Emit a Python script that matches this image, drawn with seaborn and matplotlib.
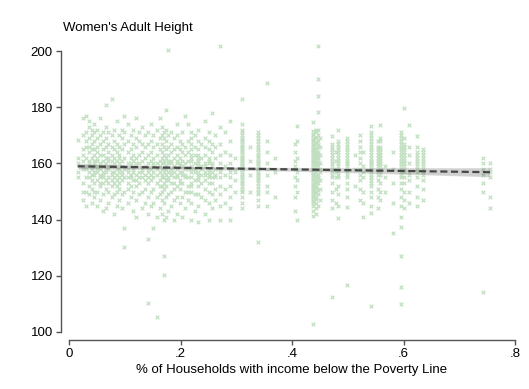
import numpy as np
import pandas as pd
import matplotlib
matplotlib.use("Agg")
import matplotlib.pyplot as plt
import seaborn as sns

# ---- data: community poverty rate -> women's adult heights (cm) ----
pov_rates = [
    0.015, 0.025, 0.03, 0.035, 0.04, 0.045, 0.05, 0.055, 0.06, 0.065,
    0.07, 0.076, 0.08, 0.085, 0.09, 0.095, 0.098, 0.105, 0.11, 0.115,
    0.12, 0.125, 0.13, 0.135, 0.142, 0.147, 0.151, 0.157, 0.162, 0.166,
    0.170, 0.174, 0.178, 0.183, 0.188, 0.193, 0.198, 0.203, 0.208, 0.213,
    0.218, 0.225, 0.231, 0.237, 0.243, 0.25, 0.256, 0.262, 0.27, 0.28,
    0.288, 0.298, 0.31, 0.325, 0.339, 0.355, 0.37, 0.405, 0.408, 0.437,
    0.442, 0.446, 0.45, 0.471, 0.478, 0.483, 0.499, 0.512, 0.522, 0.527,
    0.541, 0.554, 0.558, 0.566, 0.581, 0.595, 0.6, 0.609, 0.624, 0.635,
    0.742, 0.755,
]

heights = [
    [157, 160, 168.3, 155, 162],
    [150, 158, 163, 170, 176, 153, 161, 147, 165],
    [155, 159, 171, 177, 150, 162, 166, 145, 158, 168],
    [152, 157, 160, 164, 169, 173, 149, 155, 161, 166, 175],
    [146, 151, 156, 158, 162, 165, 167, 170, 172, 154, 159],
    [148, 153, 157, 160, 163, 168, 171, 174, 156, 150, 161, 165],
    [145, 150, 154, 157, 159, 162, 164, 166, 169, 172, 158, 161],
    [147, 152, 155, 158, 160, 163, 167, 170, 176, 156, 153],
    [143, 149, 153, 156, 159, 161, 165, 168, 171, 157, 163, 155],
    [144, 151, 154, 157, 160, 162, 166, 169, 173, 180.8, 158],
    [146, 150, 155, 158, 161, 164, 167, 171, 153, 159, 162],
    [148, 152, 156, 159, 163, 166, 170, 182.9, 157, 154, 161],
    [142, 149, 153, 157, 160, 162, 165, 168, 172, 155, 159],
    [145, 150, 154, 158, 161, 164, 167, 175, 156, 152],
    [147, 151, 155, 157, 160, 163, 166, 170, 158, 153, 162],
    [144, 149, 154, 156, 159, 161, 165, 169, 172, 157],
    [130.4, 137.1, 150, 155, 158, 162, 167, 171, 177],
    [146, 151, 155, 158, 160, 164, 168, 174, 153, 157],
    [148, 152, 156, 159, 162, 165, 170, 155, 160],
    [143, 150, 154, 157, 161, 163, 167, 172, 158],
    [141, 147, 152, 156, 159, 162, 166, 169, 176, 154, 160],
    [149, 153, 157, 160, 163, 168, 171, 155],
    [144, 150, 155, 158, 161, 164, 167, 173, 157],
    [146, 151, 156, 159, 162, 166, 170, 154],
    [110.4, 133.1, 142, 148, 153, 157, 160, 163, 167, 171, 155, 158],
    [145, 150, 154, 158, 161, 164, 168, 174, 156],
    [136.9, 146, 151, 155, 159, 162, 166, 170, 157, 160],
    [105.2, 141, 148, 153, 156, 160, 163, 167, 172, 158],
    [144, 149, 154, 157, 161, 165, 169, 176, 159, 152],
    [142, 147, 152, 155, 158, 160, 162, 164, 167, 170, 173, 156, 150],
    [120.3, 127.2, 140, 146, 151, 155, 158, 161, 163, 166, 169, 171, 153, 157, 160],
    [141, 148, 152, 156, 159, 162, 165, 168, 172, 179, 154, 158],
    [143, 149, 154, 157, 160, 163, 166, 170, 200.3, 155, 161],
    [145, 150, 153, 156, 158, 161, 164, 167, 171, 157, 160],
    [140, 147, 151, 155, 159, 162, 165, 169, 157, 153],
    [142, 148, 152, 156, 158, 160, 163, 166, 170, 174, 155, 161],
    [146, 151, 154, 157, 159, 162, 165, 168, 153, 160],
    [141, 148, 153, 156, 159, 161, 164, 167, 171, 157],
    [144, 150, 155, 158, 160, 163, 166, 177, 156],
    [147, 152, 155, 158, 161, 164, 168, 174, 150],
    [140, 146, 150, 153, 155, 157, 159, 161, 163, 165, 167, 169, 171, 152, 158, 162],
    [143, 149, 154, 157, 160, 163, 166, 170, 158],
    [139, 145, 149, 152, 155, 157, 159, 161, 163, 165, 168, 172, 154, 160, 162, 156],
    [148, 153, 156, 159, 162, 167, 158],
    [142, 147, 151, 154, 157, 160, 163, 166, 169, 175, 156, 159],
    [140, 146, 150, 153, 156, 158, 160, 162, 165, 168, 171, 155, 161, 157],
    [144, 149, 153, 157, 160, 164, 167, 178, 155, 159],
    [147, 151, 155, 158, 162, 166, 170, 156],
    [140, 145, 149, 152, 155, 158, 160, 163, 167, 173, 201.9, 157],
    [146, 151, 156, 159, 164, 171],
    [140, 144, 148, 152, 155, 157, 160, 163, 168, 175, 158],
    [150, 154, 158, 162, 157],
    [144, 146, 148, 150, 151, 152, 153, 154, 155, 156, 157, 158, 159, 160, 161,
     162, 163, 164, 165, 166, 167, 168, 169, 170, 172, 174, 182.8, 157.5, 159.5,
     161.5, 155.5, 153.5, 158.3, 160.3, 162.3, 164.3, 166.3, 168.3, 150.3, 171.3],
    [150, 156, 161, 166],
    [132.1, 145, 147, 149, 151, 153, 155, 157, 158, 159, 160, 161, 162, 163, 165,
     167, 169, 171, 156, 154, 150, 152, 154.5, 156.5, 158.5, 160.5, 162.5, 164,
     166, 168, 170],
    [145, 152, 156, 160, 164, 168, 188.7, 158, 150],
    [148, 157, 162],
    [143, 148, 152, 155, 158, 161, 164, 167, 159],
    [140, 150, 157, 162, 168, 173.3, 154],
    [141.3, 174.8, 143, 145, 147, 148, 149, 150, 151, 152, 153, 154, 155, 156, 157,
     158, 159, 160, 161, 162, 163, 164, 165, 166, 167, 168, 169, 170, 102.8, 146,
     151.5, 157.5, 146.5, 148.5, 150.5, 152.5, 154.5, 156.5, 158.5, 160.5, 162.5,
     164.5, 166.5, 168.5, 170.5, 159.2, 161.2, 163.2, 157.2, 165.2, 171.5],
    [142, 144, 146, 148, 150, 152, 154, 155, 156, 157, 158, 159, 160, 161, 162,
     163, 164, 165, 167, 169, 171, 172, 153, 151, 147.5, 149.5, 151.5, 153.5,
     155.5, 157.5, 159.5, 161.5, 163.5, 165.5, 167.5, 169.5, 160.8, 162.8, 158.8],
    [201.9, 190.0, 184.0, 178.2, 145, 149, 153, 156, 158, 160, 162, 164, 166, 168,
     170, 172, 155, 159, 150.5, 154.5, 157.5, 160.5, 163.5, 166.5, 161.8],
    [147, 151, 154, 157, 160, 163, 166, 169, 158],
    [112.3, 144.0, 147, 150, 153, 156, 158, 160, 162, 164, 166, 169.8, 155, 157,
     159, 161, 163, 165, 167],
    [146, 151, 155, 158, 161, 164, 157],
    [140.5, 145, 149, 152, 155, 157, 159, 162, 165, 168, 171.9, 156, 158, 160,
     161, 163, 164, 166, 167],
    [116.7, 144.6, 148, 151, 153, 155, 157, 159, 161, 163, 165, 167, 156, 160,
     158, 160, 162, 164, 166, 168, 169],
    [152, 158, 163],
    [147, 151, 154, 158, 162, 166, 156, 160, 164, 168, 170],
    [140.8, 146, 150, 155, 159, 164, 157],
    [109.4, 142.2, 145, 148, 150, 152, 154, 156, 157, 158, 159, 160, 161, 163, 165,
     167, 169, 173.3, 155, 153, 162, 164, 166, 168, 170, 171, 158.5, 160.5],
    [144, 148, 151, 154, 157, 159, 161, 164, 166, 156, 160, 162, 163, 165, 168],
    [147, 150, 153, 156, 158, 160, 162, 165, 168, 173.7, 157, 159, 161, 163, 164,
     166, 169],
    [150, 155, 159],
    [135.3, 146, 153, 158, 164],
    [109.9, 115.9, 127.0, 137.3, 141.0, 145, 148, 151, 153, 155, 157, 159, 161,
     163, 165, 167, 169, 156, 158, 160, 162, 164, 166, 168, 170, 171],
    [144, 147, 150, 153, 155, 157, 159, 162, 164, 166, 179.8, 158, 160, 161, 163,
     165, 167, 169],
    [146, 150, 154, 157, 160, 163, 166, 173.7, 156],
    [145, 148, 152, 155, 158, 161, 164, 169.7, 157, 159, 160, 162, 163, 166],
    [147, 151, 154, 157, 160, 163, 165, 156, 158, 159, 161, 162, 164],
    [114.1, 150, 153, 160.0, 156, 158, 162],
    [144.0, 148.1, 155.3, 158, 157, 160],
]

x_ticks = [0, 0.2, 0.4, 0.6, 0.8]
x_tick_labels = ["0", ".2", ".4", ".6", ".8"]
y_ticks = [100, 120, 140, 160, 180, 200]
title_text = "Women's Adult Height"
x_label = "% of Households with income below the Poverty Line"

rows = [(p, h) for p, hs in zip(pov_rates, heights) for h in hs]
df = pd.DataFrame(rows, columns=["poverty", "height"])

# ---- figure ----
sns.set_style("white")
plt.rcParams["font.family"] = ["Liberation Sans", "DejaVu Sans"]
W, H = 529, 389
fig = plt.figure(figsize=(W / 100, H / 100), dpi=100)
ax = fig.add_axes([69.3 / W, (H - 332) / H, 445.7 / W, 281 / H])

sns.scatterplot(data=df, x="poverty", y="height", ax=ax, marker="x",
                s=7, linewidth=0.85, color="#bfdfbf", clip_on=False, zorder=2)
sns.regplot(data=df, x="poverty", y="height", ax=ax, scatter=False,
            color="#474747", ci=95, truncate=True,
            line_kws=dict(lw=1.6, ls=(0, (3.2, 1.6)), zorder=4))
for c in ax.collections[1:]:
    c.set_alpha(0.25)
    c.set_zorder(3)

ax.set_xlim(0, 0.8)
ax.set_ylim(100, 200)
ax.set_xticks(x_ticks)
ax.set_xticklabels(x_tick_labels)
ax.set_yticks(y_ticks)
ax.set_xlabel("")
ax.set_ylabel("")

for s in ["top", "right"]:
    ax.spines[s].set_visible(False)
for s in ["left", "bottom"]:
    ax.spines[s].set_visible(True)
    ax.spines[s].set_position(("outward", 5.8))
    ax.spines[s].set_color("#555555")
    ax.spines[s].set_linewidth(1.0)
ax.tick_params(axis="both", which="major", direction="out", length=3.5,
               width=1.0, color="#555555", labelsize=9.5, labelcolor="black",
               left=True, bottom=True, pad=2.5)

fig.text(63 / W, 1 - 27.5 / H, title_text, ha="left", va="center",
         fontsize=9.5, color="black")
fig.text(292 / W, 1 - 370 / H, x_label, ha="center", va="center",
         fontsize=9.5, color="black")

fig.savefig("out.png", dpi=100, facecolor="white")
